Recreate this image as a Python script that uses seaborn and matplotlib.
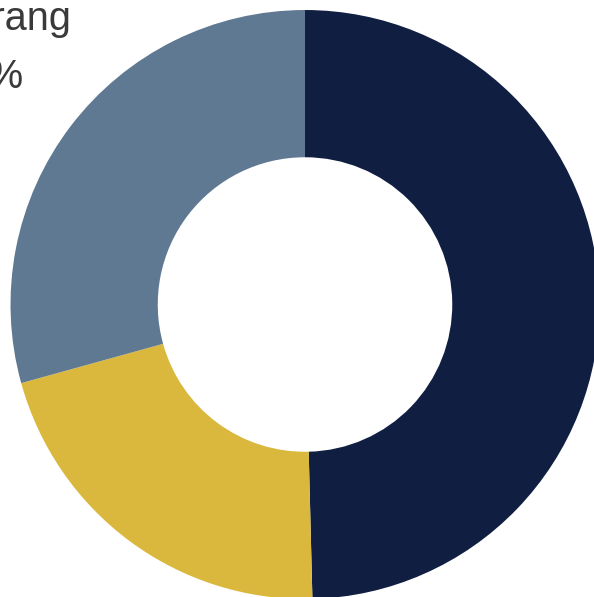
import matplotlib

matplotlib.use("Agg")

import matplotlib.pyplot as plt
import seaborn as sns

categories = ["Baik", "Cukup", "Kurang"]
shares = [49.6, 21.1, 29.3]
colors = ["#0F1E41", "#DAB83E", "#607993"]
label_text = "Kurang\n29%"

sns.set_theme(style="white")
plt.rcParams["font.family"] = ["Liberation Sans", "DejaVu Sans"]

fig = plt.figure(figsize=(5.94, 5.97), dpi=100)
ax = fig.add_axes([0, 0, 1, 1])
ax.pie(
    shares,
    colors=sns.color_palette(colors),
    startangle=90,
    counterclock=False,
    radius=1.0,
    wedgeprops={"width": 0.5, "linewidth": 0},
)
ax.set_xlim(-1.0357, 0.9813)
ax.set_ylim(-0.9932, 1.034)
ax.set_aspect("auto")
ax.axis("off")

ax.text(
    -1.226, 1.035, label_text,
    ha="left", va="top", fontsize=28.5, color="#3A3A3A",
    linespacing=1.69, clip_on=False,
)

fig.savefig("out.png", dpi=100)
plt.close(fig)
